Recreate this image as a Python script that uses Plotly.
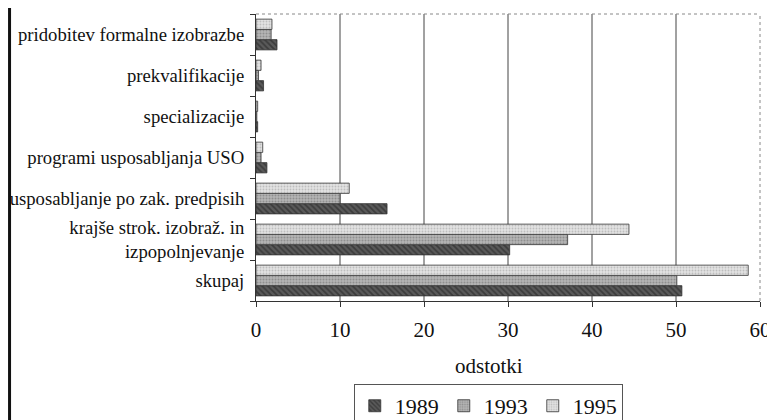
import plotly.graph_objects as go

categories = [
    "skupaj",
    "krajše strok. izobraž. in<br>izpopolnjevanje",
    "usposabljanje po zak. predpisih",
    "programi usposabljanja USO",
    "specializacije",
    "prekvalifikacije",
    "pridobitev formalne izobrazbe",
]
v1989 = [50.7, 30.2, 15.6, 1.3, 0.2, 0.9, 2.5]
v1993 = [50.1, 37.1, 10.0, 0.6, 0.1, 0.3, 1.8]
v1995 = [58.6, 44.4, 11.1, 0.8, 0.2, 0.6, 1.9]
years = ["1989", "1993", "1995"]
x_ticks = [0, 10, 20, 30, 40, 50, 60]

FONT = "Liberation Serif, DejaVu Serif, serif"

styles = {
    "1989": dict(color="#5a5a5a", pattern=dict(shape="\\", fgcolor="#1e1e1e", size=4, solidity=0.45)),
    "1993": dict(color="#b4b4b4", pattern=dict(shape=".", fgcolor="#6a6a6a", size=3, solidity=0.35)),
    "1995": dict(color="#e2e2e2", pattern=dict(shape=".", fgcolor="#9a9a9a", size=3, solidity=0.3)),
}

fig = go.Figure()
for yr, vals in zip(years, [v1989, v1993, v1995]):
    st = styles[yr]
    fig.add_trace(go.Bar(
        y=categories, x=vals, orientation="h", name=yr,
        marker=dict(color=st["color"], pattern=st["pattern"],
                    line=dict(color="#333", width=0.8)),
    ))

# vertical gridlines at inner tick values
for t in x_ticks[1:-1]:
    fig.add_shape(type="line", xref="x", yref="paper", x0=t, x1=t, y0=0, y1=1,
                  line=dict(color="#444", width=1), layer="below")
# dotted top and right frame
fig.add_shape(type="line", xref="paper", yref="paper", x0=0, x1=1, y0=1, y1=1,
              line=dict(color="#888", width=1, dash="dot"))
fig.add_shape(type="line", xref="paper", yref="paper", x0=1, x1=1, y0=0, y1=1,
              line=dict(color="#888", width=1, dash="dot"))
# left scan border
fig.add_shape(type="line", xref="paper", yref="paper", x0=-0.489, x1=-0.489, y0=-0.45, y1=1.03,
              line=dict(color="#111", width=3))

fig.add_annotation(text="odstotki", xref="paper", yref="paper", x=0.462, y=-0.228,
                   xanchor="center", yanchor="middle", showarrow=False,
                   font=dict(family=FONT, size=21, color="#111"))

fig.update_layout(
    width=775, height=420,
    margin=dict(l=248, r=23, t=6, b=127, autoexpand=False),
    paper_bgcolor="white", plot_bgcolor="white",
    barmode="group", bargap=0.25, bargroupgap=0,
    font=dict(family=FONT, color="#111"),
    showlegend=True,
    legend=dict(orientation="h", x=0.194, y=-0.289, xanchor="left", yanchor="top",
                bordercolor="#555", borderwidth=1, font=dict(family=FONT, size=22, color="#111"),
                traceorder="normal"),
    xaxis=dict(range=[0, 60], tickvals=x_ticks, showgrid=False, zeroline=False,
               showline=True, linecolor="#333", linewidth=1, automargin=False,
               ticks="outside", ticklen=5, tickcolor="#333",
               tickfont=dict(family=FONT, size=21, color="#111"), ticklabelstandoff=5),
    yaxis=dict(showgrid=False, zeroline=False, showline=True, linecolor="#333", linewidth=1,
               automargin=False,
               ticks="outside", ticklen=5, tickcolor="#333", tickson="boundaries",
               tickfont=dict(family=FONT, size=18.7, color="#111"), ticklabelstandoff=7),
)

fig.write_html("out.html")
